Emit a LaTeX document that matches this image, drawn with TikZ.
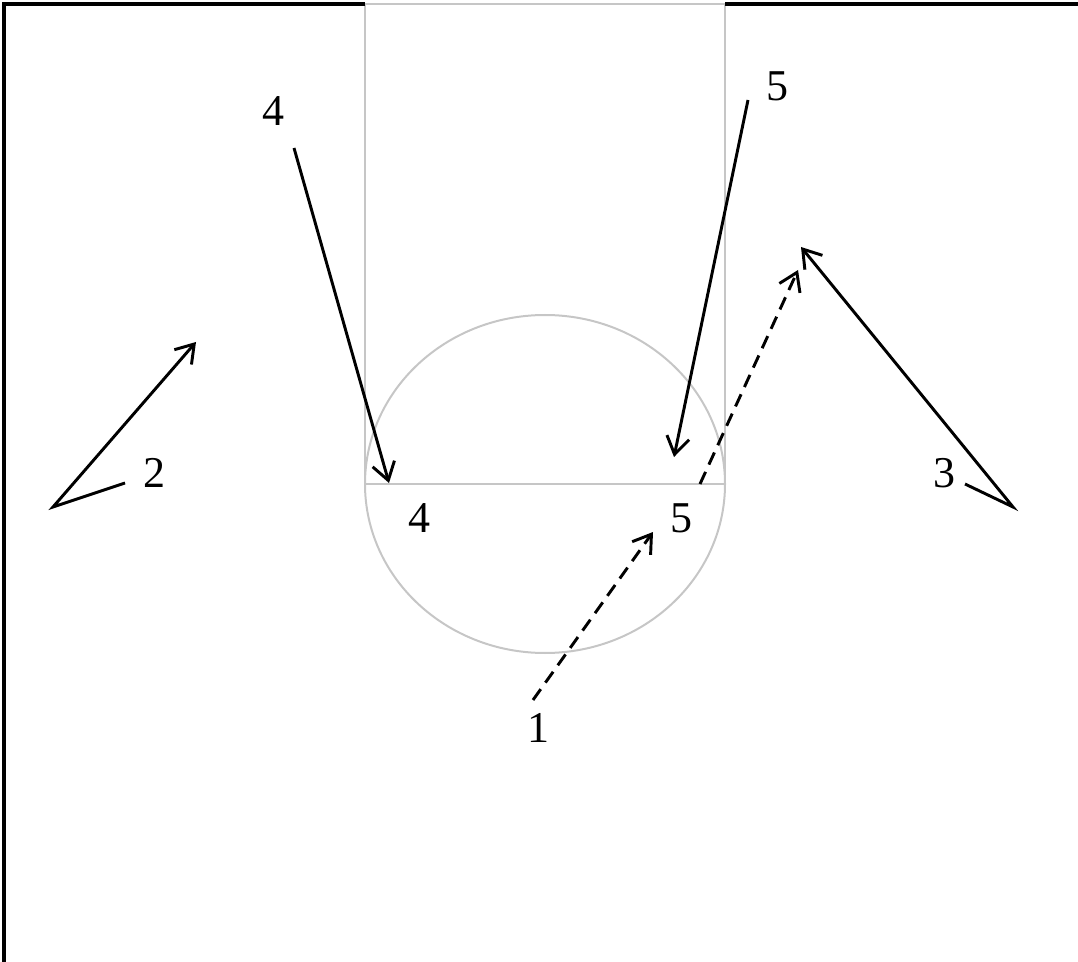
\documentclass[tikz,border=0pt]{standalone}
\usepackage{fontspec}
\setmainfont{Liberation Serif}
\usetikzlibrary{arrows.meta}
\definecolor{courtgray}{RGB}{198,198,198}
\tikzset{
  court/.style={draw=courtgray, line width=1.5pt},
  border/.style={draw=black, line width=2.4pt},
  move/.style={draw=black, line width=2.2pt, -{Straight Barb[length=13pt,width=17pt,line width=2.2pt]}},
  pass/.style={move, dash pattern=on 10pt off 6pt},
  lbl/.style={font=\fontsize{33}{40}\selectfont, inner sep=0pt}
}
\begin{document}
\begin{tikzpicture}[x=0.75pt,y=-0.75pt]
\useasboundingbox (0,0) rectangle (1078,962);
% court
\draw[court] (365,4) -- (365,484) -- (725,484) -- (725,4);
\draw[court] (545,484) ellipse [x radius=180, y radius=169];
\draw[court] (365,4) -- (725,4);
\draw[border] (365,4) -- (4,4) -- (4,962);
\draw[border] (725,4) -- (1078,4);
% labels
\node[lbl] (t4) at (273,111) {4};
\node[lbl] (t5) at (777,86) {5};
\node[lbl] (p2) at (154,473) {2};
\node[lbl] (p3) at (944,473) {3};
\node[lbl] (b4) at (419,518) {4};
\node[lbl] (b5) at (681,518) {5};
\node[lbl] (p1) at (538,728) {1};
% coordinates
\coordinate (a4s) at (294,148);
\coordinate (a4e) at (389,483);
\coordinate (a5s) at (748,100);
\coordinate (a5e) at (674,457);
\coordinate (a2s) at (125,483);
\coordinate (a2v) at (53,507);
\coordinate (a2e) at (196,342);
\coordinate (a3s) at (965,484);
\coordinate (a3v) at (1013,507);
\coordinate (a3e) at (801,247);
\coordinate (d1s) at (533,700);
\coordinate (d1e) at (653,532);
\coordinate (d5s) at (700,484);
\coordinate (d5e) at (798,270);
% moves
\draw[move] (a4s) -- (a4e);
\draw[move] (a5s) -- (a5e);
\draw[move, line join=miter] (a2s) -- (a2v) -- (a2e);
\draw[move, line join=miter] (a3s) -- (a3v) -- (a3e);
\draw[pass] (d1s) -- (d1e);
\draw[pass] (d5s) -- (d5e);
\end{tikzpicture}
\end{document}
